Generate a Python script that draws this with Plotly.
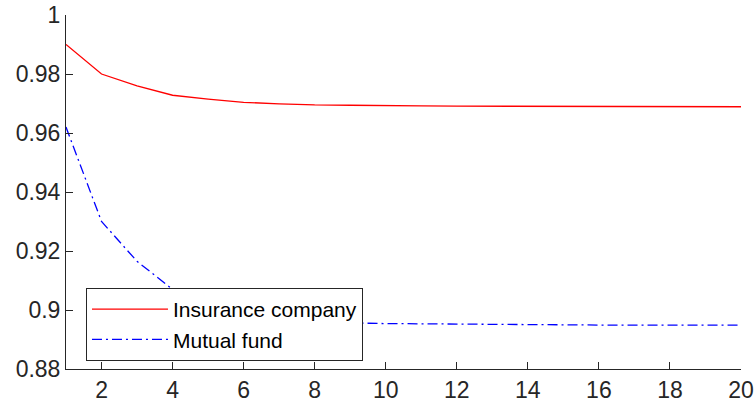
import plotly.graph_objects as go

x_vals = list(range(1, 21))
insurance = [0.990, 0.980, 0.976, 0.9728, 0.9715, 0.9704, 0.9699, 0.9695, 0.9694, 0.9692,
             0.9692, 0.9691, 0.9691, 0.9690, 0.9690, 0.9690, 0.9690, 0.9690, 0.9689, 0.9689]
mutual = [0.962, 0.930, 0.9165, 0.907, 0.901, 0.898, 0.8966, 0.8960, 0.8956, 0.8954,
          0.8953, 0.8951, 0.8951, 0.8950, 0.8950, 0.8949, 0.8949, 0.8949, 0.8949, 0.8949]
series_names = ["Insurance company", "Mutual fund"]
y_ticks = [0.88, 0.90, 0.92, 0.94, 0.96, 0.98, 1.00]
y_tick_labels = ["0.88", "0.9", "0.92", "0.94", "0.96", "0.98", "1"]
x_ticks = [2, 4, 6, 8, 10, 12, 14, 16, 18, 20]

axis_color = "#262626"
font_family = "Liberation Sans, Arial, sans-serif"

fig = go.Figure()
fig.add_trace(go.Scatter(x=x_vals, y=insurance, mode="lines", name=series_names[0],
                         line=dict(color="#ff0000", width=1.3)))
fig.add_trace(go.Scatter(x=x_vals, y=mutual, mode="lines", name=series_names[1],
                         line=dict(color="#0000ff", width=1.3, dash="10px,4px,2px,4px")))

fig.update_layout(
    width=756, height=411,
    margin=dict(l=66, r=15, t=15, b=42, autoexpand=False),
    paper_bgcolor="white", plot_bgcolor="white",
    font=dict(family=font_family, size=22, color=axis_color),
    showlegend=True,
    legend=dict(x=0.0296, y=0.229, xanchor="left", yanchor="top",
                bgcolor="white", bordercolor=axis_color, borderwidth=1,
                font=dict(size=21, color="black"),
                tracegroupgap=0, itemwidth=76),
    xaxis=dict(range=[1, 20], tickvals=x_ticks, ticks="inside", ticklen=7,
               tickcolor=axis_color, showline=True, linecolor=axis_color, linewidth=1,
               showgrid=False, zeroline=False, mirror=False, automargin=False,
               ticklabeloverflow="allow",
               tickfont=dict(size=23, color=axis_color)),
    yaxis=dict(range=[0.88, 1.0], tickvals=y_ticks, ticktext=y_tick_labels,
               ticks="inside", ticklen=7, tickcolor=axis_color,
               showline=True, linecolor=axis_color, linewidth=1,
               showgrid=False, zeroline=False, mirror=False, automargin=False,
               ticklabeloverflow="allow",
               tickfont=dict(size=23, color=axis_color)),
)

fig.write_html("out.html",
               config={"displayModeBar": False},
               post_script="document.body.style.margin='0';document.body.style.overflow='hidden';")
